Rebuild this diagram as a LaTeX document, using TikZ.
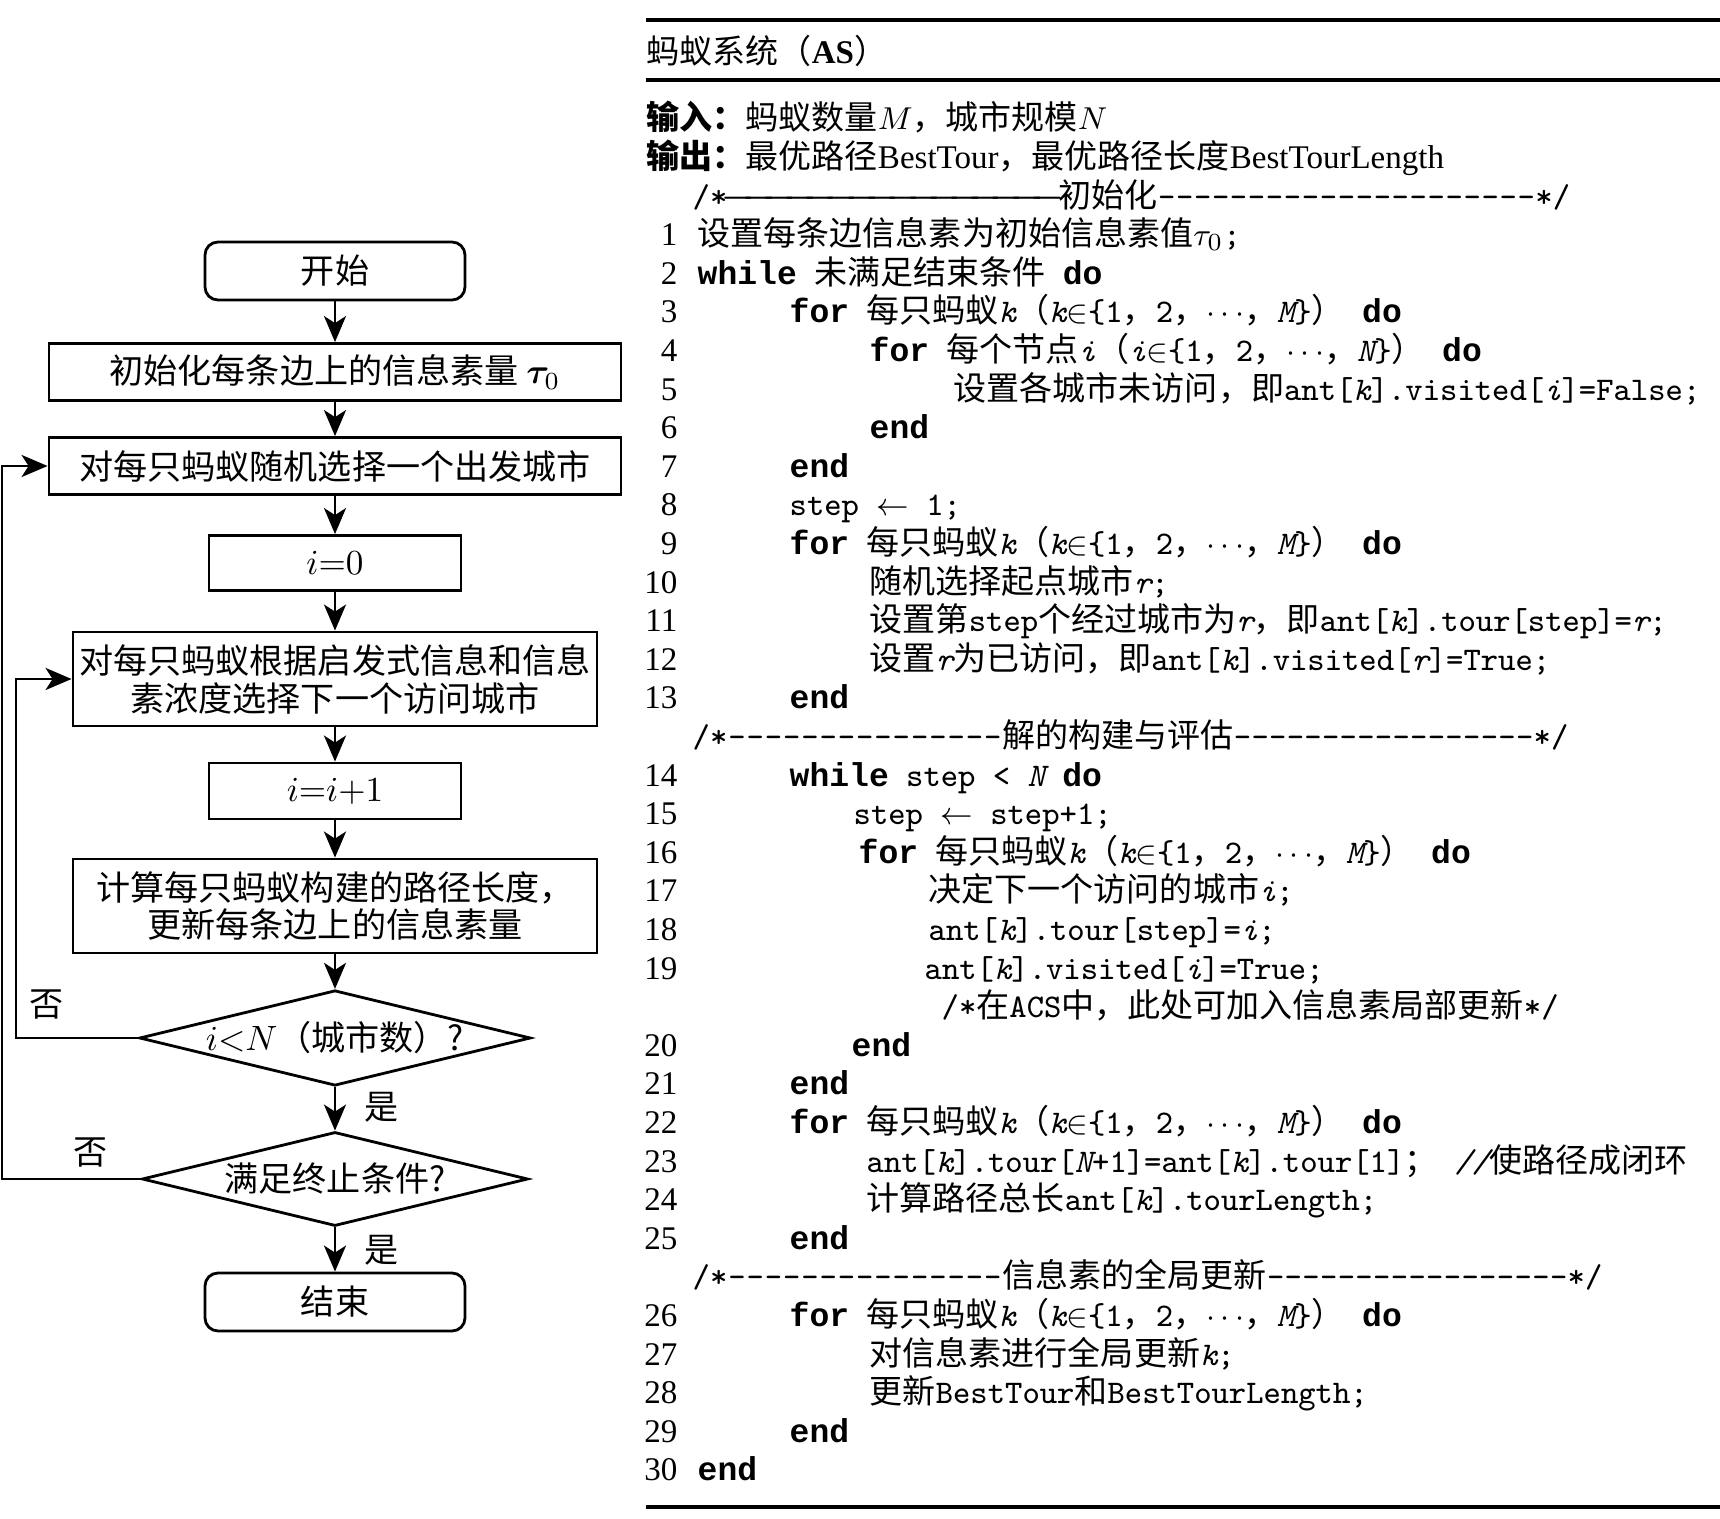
\documentclass[tikz,border=0pt]{standalone}
\usepackage{fontspec}
\usepackage{bm}
\setmainfont{Noto Sans CJK SC}
\newfontfamily\serlatfont{Liberation Serif}
\newfontfamily\kwfont{Liberation Mono}
\usetikzlibrary{shapes.geometric,arrows.meta}

\newcommand{\codett}[1]{{\ttfamily #1}}
\newcommand{\codekw}[1]{{\kwfont\bfseries #1}}
\newcommand{\serlat}[1]{{\serlatfont #1}}
\newcommand{\flowsize}{\fontsize{9.7pt}{10.8pt}\selectfont}
\newcommand{\codesize}{\fontsize{9.4pt}{11pt}\selectfont}

\begin{document}
\begin{tikzpicture}[
    box/.style={draw, line width=0.8pt, minimum width=5.72cm, minimum height=0.57cm,
      inner sep=0pt, align=center, font=\flowsize},
    smallbox/.style={box, minimum width=2.52cm, minimum height=0.55cm},
    widebox/.style={box, minimum width=5.24cm, minimum height=0.94cm},
    startstop/.style={box, rounded corners=0.13cm, minimum width=2.6cm, minimum height=0.58cm},
    decision/.style={draw, diamond, line width=0.8pt, shape aspect=4.1, minimum width=3.86cm,
      minimum height=0.94cm, inner sep=0pt, font=\flowsize},
    flow/.style={line width=0.8pt, -{Stealth[length=0.26cm,width=0.22cm,inset=0.07cm]}},
    lab/.style={inner sep=0pt, font=\flowsize},
    code/.style={anchor=west, inner sep=0pt, text height=0.84em, text depth=0.16em, font=\codesize},
    num/.style={anchor=east, inner sep=0pt, text height=0.84em, text depth=0.16em, font=\codesize\serlatfont},
    rule/.style={line width=1.2pt}
  ]
  \useasboundingbox (0,0) rectangle (17.2,-15.19);

  % flowchart
  \node[startstop] (start) at (3.35,-2.71) {开始};
  \node[box] (init) at (3.35,-3.72) {初始化每条边上的信息素量 $\bm{\tau}_0$};
  \node[box] (rand) at (3.35,-4.66) {对每只蚂蚁随机选择一个出发城市};
  \node[smallbox] (izero) at (3.35,-5.63) {$i{=}0$};
  \node[widebox] (choose) at (3.35,-6.79) {对每只蚂蚁根据启发式信息和信息\\素浓度选择下一个访问城市};
  \node[smallbox, minimum height=0.56cm] (incr) at (3.35,-7.91) {$i{=}i{+}1$};
  \node[widebox] (calc) at (3.35,-9.06) {计算每只蚂蚁构建的路径长度，\\更新每条边上的信息素量};
  \node[decision] (cityq) at (3.35,-10.38) {$i{<}N$（城市数）?};
  \node[decision] (stopq) at (3.35,-11.79) {满足终止条件?};
  \node[startstop] (stop) at (3.35,-13.02) {结束};

  \draw[flow] (start) -- (init);
  \draw[flow] (init) -- (rand);
  \draw[flow] (rand) -- (izero);
  \draw[flow] (izero) -- (choose);
  \draw[flow] (choose) -- (incr);
  \draw[flow] (incr) -- (calc);
  \draw[flow] (calc) -- (cityq);
  \draw[flow] (cityq) -- (stopq);
  \draw[flow] (stopq) -- (stop);

  % loops back
  \coordinate (loopin) at (0.16,-10.38);
  \coordinate (loopout) at (0.02,-11.79);
  \draw[flow] (cityq.west) -- (loopin) |- (choose.west);
  \draw[flow] (stopq.west) -- (loopout) |- (rand.west);

  \node[lab] (noin) at (0.47,-10.05) {否};
  \node[lab] (noout) at (0.91,-11.53) {否};
  \node[lab] (yesin) at (3.82,-11.07) {是};
  \node[lab] (yesout) at (3.82,-12.50) {是};

  % algorithm
  \coordinate (ruletopl) at (6.46,-0.20);
  \coordinate (ruletopr) at (17.2,-0.20);
  \coordinate (rulemidl) at (6.46,-0.80);
  \coordinate (rulemidr) at (17.2,-0.80);
  \coordinate (rulebotl) at (6.46,-15.07);
  \coordinate (rulebotr) at (17.2,-15.07);
  \draw[rule] (ruletopl) -- (ruletopr);
  \draw[rule] (rulemidl) -- (rulemidr);
  \draw[rule] (rulebotl) -- (rulebotr);

  \node[code] (title) at (6.46,-0.52) {蚂蚁系统（\serlat{\bfseries AS}）};
  \node[code] (inp) at (6.46,-1.180) {{\bfseries 输入：}蚂蚁数量$M$，城市规模$N$};
  \node[code] (outp) at (6.46,-1.566) {{\bfseries 输出：}最优路径\serlat{BestTour}，最优路径长度\serlat{BestTourLength}};

  \foreach \n/\r in {1/3,2/4,3/5,4/6,5/7,6/8,7/9,8/10,9/11,10/12,11/13,12/14,13/15,
      14/17,15/18,16/19,17/20,18/21,19/22,20/24,21/25,22/26,23/27,24/28,25/29,
      26/31,27/32,28/33,29/34,30/35}
    \node[num] (n\n) at (6.78,{-1.18-0.386*\r}) {\n};

  \node[code] (c1) at (6.92,-1.952) {\codett{/*}\xleaders\hbox{\kern-0.15em—\kern-0.15em}\hskip 3.31cm\relax 初始化\codett{\xleaders\hbox{-}\hskip 3.78cm\relax*/}};
  \node[code] (l1) at (6.97,-2.338) {设置每条边信息素为初始信息素值$\tau_0$\codett{;}};
  \node[code] (l2) at (6.97,-2.724) {\codekw{while}\codett{ }未满足结束条件\codett{ }\codekw{do}};
  \node[code] (l3) at (7.89,-3.110) {\codekw{for}\codett{ }每只蚂蚁\codett{\itshape k}（\codett{\itshape k}$\in$\codett{\{1}，\codett{2}，$\cdots$，\codett{{\itshape M}\}}）\codett{ }\codekw{do}};
  \node[code] (l4) at (8.69,-3.496) {\codekw{for}\codett{ }每个节点\codett{\itshape i}（\codett{\itshape i}$\in$\codett{\{1}，\codett{2}，$\cdots$，\codett{{\itshape N}\}}）\codett{ }\codekw{do}};
  \node[code] (l5) at (9.53,-3.882) {设置各城市未访问，即\codett{ant[{\itshape k}].visited[{\itshape i}]=False;}};
  \node[code] (l6) at (8.69,-4.268) {\codekw{end}};
  \node[code] (l7) at (7.89,-4.654) {\codekw{end}};
  \node[code] (l8) at (7.89,-5.040) {\codett{step }$\leftarrow$\codett{ 1;}};
  \node[code] (l9) at (7.89,-5.426) {\codekw{for}\codett{ }每只蚂蚁\codett{\itshape k}（\codett{\itshape k}$\in$\codett{\{1}，\codett{2}，$\cdots$，\codett{{\itshape M}\}}）\codett{ }\codekw{do}};
  \node[code] (l10) at (8.69,-5.812) {随机选择起点城市\codett{{\itshape r};}};
  \node[code] (l11) at (8.69,-6.198) {设置第\codett{step}个经过城市为\codett{\itshape r}，即\codett{ant[{\itshape k}].tour[step]={\itshape r};}};
  \node[code] (l12) at (8.69,-6.584) {设置\codett{\itshape r}为已访问，即\codett{ant[{\itshape k}].visited[{\itshape r}]=True;}};
  \node[code] (l13) at (7.89,-6.970) {\codekw{end}};
  \node[code] (c2) at (6.92,-7.356) {\codett{/*\xleaders\hbox{-}\hskip 2.75cm\relax}解的构建与评估\codett{\xleaders\hbox{-}\hskip 3.0cm\relax*/}};
  \node[code] (l14) at (7.89,-7.742) {\codekw{while}\codett{ step < {\itshape N} }\codekw{do}};
  \node[code] (l15) at (8.53,-8.128) {\codett{step }$\leftarrow$\codett{ step+1;}};
  \node[code] (l16) at (8.58,-8.514) {\codekw{for}\codett{ }每只蚂蚁\codett{\itshape k}（\codett{\itshape k}$\in$\codett{\{1}，\codett{2}，$\cdots$，\codett{{\itshape M}\}}）\codett{ }\codekw{do}};
  \node[code] (l17) at (9.28,-8.900) {决定下一个访问的城市\codett{{\itshape i};}};
  \node[code] (l18) at (9.28,-9.286) {\codett{ant[{\itshape k}].tour[step]={\itshape i};}};
  \node[code] (l19) at (9.24,-9.672) {\codett{ant[{\itshape k}].visited[{\itshape i}]=True;}};
  \node[code] (cacs) at (9.41,-10.058) {\codett{/*}在\codett{ACS}中，此处可加入信息素局部更新\codett{*/}};
  \node[code] (l20) at (8.51,-10.444) {\codekw{end}};
  \node[code] (l21) at (7.89,-10.830) {\codekw{end}};
  \node[code] (l22) at (7.89,-11.216) {\codekw{for}\codett{ }每只蚂蚁\codett{\itshape k}（\codett{\itshape k}$\in$\codett{\{1}，\codett{2}，$\cdots$，\codett{{\itshape M}\}}）\codett{ }\codekw{do}};
  \node[code] (l23) at (8.66,-11.602) {\codett{ant[{\itshape k}].tour[{\itshape N}+1]=ant[{\itshape k}].tour[1]}；\codett{ {\itshape //}}使路径成闭环};
  \node[code] (l24) at (8.66,-11.988) {计算路径总长\codett{ant[{\itshape k}].tourLength;}};
  \node[code] (l25) at (7.89,-12.374) {\codekw{end}};
  \node[code] (c3) at (6.92,-12.760) {\codett{/*\xleaders\hbox{-}\hskip 2.75cm\relax}信息素的全局更新\codett{\xleaders\hbox{-}\hskip 3.01cm\relax*/}};
  \node[code] (l26) at (7.89,-13.146) {\codekw{for}\codett{ }每只蚂蚁\codett{\itshape k}（\codett{\itshape k}$\in$\codett{\{1}，\codett{2}，$\cdots$，\codett{{\itshape M}\}}）\codett{ }\codekw{do}};
  \node[code] (l27) at (8.69,-13.532) {对信息素进行全局更新\codett{{\itshape k};}};
  \node[code] (l28) at (8.69,-13.918) {更新\codett{BestTour}和\codett{BestTourLength;}};
  \node[code] (l29) at (7.89,-14.304) {\codekw{end}};
  \node[code] (l30) at (6.97,-14.690) {\codekw{end}};
\end{tikzpicture}
\end{document}
